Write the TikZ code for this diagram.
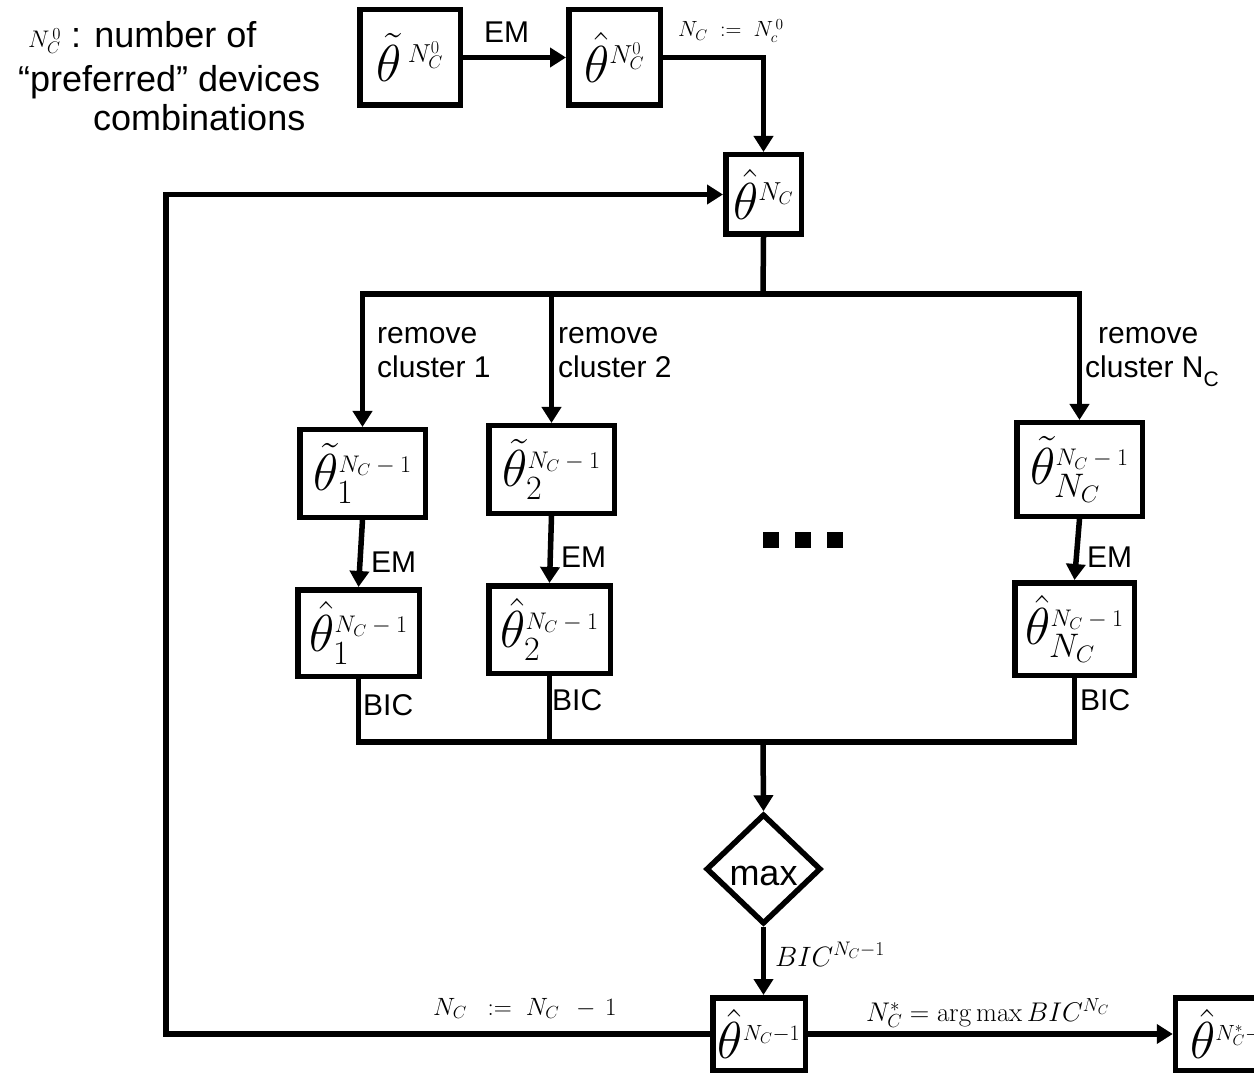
\RequirePackage{fix-cm}
\documentclass[tikz,border=0pt]{standalone}
\usepackage[no-math]{fontspec}
\setmainfont{Liberation Sans}
\usetikzlibrary{arrows.meta,shapes.geometric}
\newcommand{\fsz}[2]{\mbox{\fontsize{#1}{#1}\selectfont$#2$}}
\begin{document}
\begin{tikzpicture}[x=1pt,y=-1pt,
  box/.style={draw, line width=5.5pt, inner sep=0pt, font=\fontsize{52}{52}\selectfont},
  conn/.style={line width=5.5pt, line cap=rect},
  arr/.style={line width=5.5pt, -{Triangle[length=16pt,width=19pt]}},
  lbl/.style={inner sep=0pt, font=\fontsize{30}{35}\selectfont},
  biglbl/.style={inner sep=0pt, font=\fontsize{36}{40}\selectfont},
  dotsq/.style={fill=black, inner sep=0pt, minimum size=16pt}]
\clip (0,0) rectangle (1254,1075);
\useasboundingbox (0,0) rectangle (1254,1075);

% left legend
\node[biglbl, anchor=base west] (leg1) at (28,48) {\fsz{24}{N_C^{\,0}}\ : number of};
\node[biglbl, anchor=base west] (leg2) at (18,92) {“preferred” devices};
\node[biglbl, anchor=base west] (leg3) at (93,131) {combinations};

% boxes
\node[box, minimum width=100.5pt, minimum height=95.5pt] (A) at (410,57.5) {$\tilde\theta^{\,\fsz{26}{N_C^0}}$};
\node[box, minimum width=91.5pt, minimum height=95.5pt] (B) at (614.5,57.5) {$\hat\theta^{\fsz{26}{N_C^0}}$};
\node[box, minimum width=75.5pt, minimum height=79.5pt] (C) at (763.5,194.5) {$\hat\theta^{\fsz{26}{N_C}}$};

\node[box, minimum width=125.5pt, minimum height=87.5pt] (T1) at (362.5,473.5) {$\tilde\theta_{\fsz{34}{1}}^{\fsz{24}{N_C-1}}$};
\node[box, minimum width=121.5pt, minimum height=86.5pt] (H1) at (358.5,633) {$\hat\theta_{\fsz{34}{1}}^{\fsz{24}{N_C-1}}$};
\node[box, minimum width=125.5pt, minimum height=87.5pt] (T2) at (551.5,469.5) {$\tilde\theta_{\fsz{34}{2}}^{\fsz{24}{N_C-1}}$};
\node[box, minimum width=121.5pt, minimum height=87.5pt] (H2) at (549.5,629.5) {$\hat\theta_{\fsz{34}{2}}^{\fsz{24}{N_C-1}}$};
\node[box, minimum width=125.5pt, minimum height=93.5pt] (TN) at (1079.5,469.5) {$\tilde\theta_{\fsz{34}{N_C}}^{\fsz{24}{N_C-1}}$};
\node[box, minimum width=119.5pt, minimum height=92.5pt] (HN) at (1074.5,629) {$\hat\theta_{\fsz{34}{N_C}}^{\fsz{24}{N_C-1}}$};

\node[draw, diamond, line width=5.5pt, inner sep=0pt, minimum width=115pt, minimum height=110pt] (M) at (763.5,869) {};
\node[biglbl, anchor=base] (maxt) at (763.5,885) {max};

\node[box, minimum width=92.5pt, minimum height=72.5pt] (D) at (759,1034) {$\hat\theta^{\fsz{22}{N_C{-}1}}$};
\node[box, minimum width=120pt, minimum height=72.5pt, anchor=west] (E) at (1172.75,1034) {\hspace*{-8pt}$\hat\theta^{\fsz{22}{N_C^*{-}1}}$\hfill};

% dots
\node[dotsq] (d1) at (770.5,540) {};
\node[dotsq] (d2) at (802.5,540) {};
\node[dotsq] (d3) at (834.5,540) {};

% coordinates
\coordinate (busT) at (763,294);
\coordinate (busB) at (763,742);
\coordinate (loopX) at (166,600);

% connectors
\draw[arr] (A.east) -- (B.west);
\draw[arr] (B.east) -- (B.east -| C.north) -- (C.north);
\draw[conn] (C.south) -- (busT);
\draw[conn] (T1.north |- busT) -- (TN.north |- busT);
\draw[arr] (T1.north |- busT) -- (T1.north);
\draw[arr] (T2.north |- busT) -- (T2.north);
\draw[arr] (TN.north |- busT) -- (TN.north);
\draw[arr] (T1.south) -- (H1.north);
\draw[arr] (T2.south) -- (H2.north);
\draw[arr] (TN.south) -- (HN.north);
\draw[conn] (H1.south) -- (H1.south |- busB) -- (HN.south |- busB) -- (HN.south);
\draw[conn] (H2.south) -- (H2.south |- busB);
\draw[arr] (busB) -- (M.north);
\draw[arr] (M.south) -- (M.south |- D.north);
\draw[arr] (D.east) -- (E.west);
\draw[arr] (D.west) -- (D.west -| loopX) -- (C.west -| loopX) -- (C.west);

% labels
\node[lbl, anchor=base] (emA) at (506.5,43) {EM};
\node[inner sep=0pt, anchor=base west] (nc0) at (678,37) {\fsz{22}{N_C\;:=\;N_c^{\,0}}};
\node[lbl, anchor=base west, align=left] (rc1) at (377,378) {remove\\cluster 1};
\node[lbl, anchor=base west, align=left] (rc2) at (558,378) {remove\\cluster 2};
\node[lbl, anchor=base west, align=left] (rcN) at (1085,378) {\hspace*{13pt}remove\\cluster N\raisebox{-9pt}{\fontsize{21}{21}\selectfont C}};
\node[lbl, anchor=base west] (em1) at (371,572) {EM};
\node[lbl, anchor=base west] (em2) at (561,567) {EM};
\node[lbl, anchor=base west] (emN) at (1087,567) {EM};
\node[lbl, anchor=base west] (bic1) at (363,715) {BIC};
\node[lbl, anchor=base west] (bic2) at (552,710) {BIC};
\node[lbl, anchor=base west] (bicN) at (1080,710) {BIC};
\node[inner sep=0pt, anchor=base west] (bicM) at (775,966) {\fsz{28}{BIC^{N_C-1}}};
\node[inner sep=0pt, anchor=base west] (argm) at (866,1021) {\fsz{27}{N_C^* = \arg\max BIC^{N_C}}};
\node[inner sep=0pt, anchor=base west] (ncm) at (433,1015) {\fsz{25}{N_C\;\;:=\;N_C\;\,-\,1}};
\end{tikzpicture}
\end{document}
